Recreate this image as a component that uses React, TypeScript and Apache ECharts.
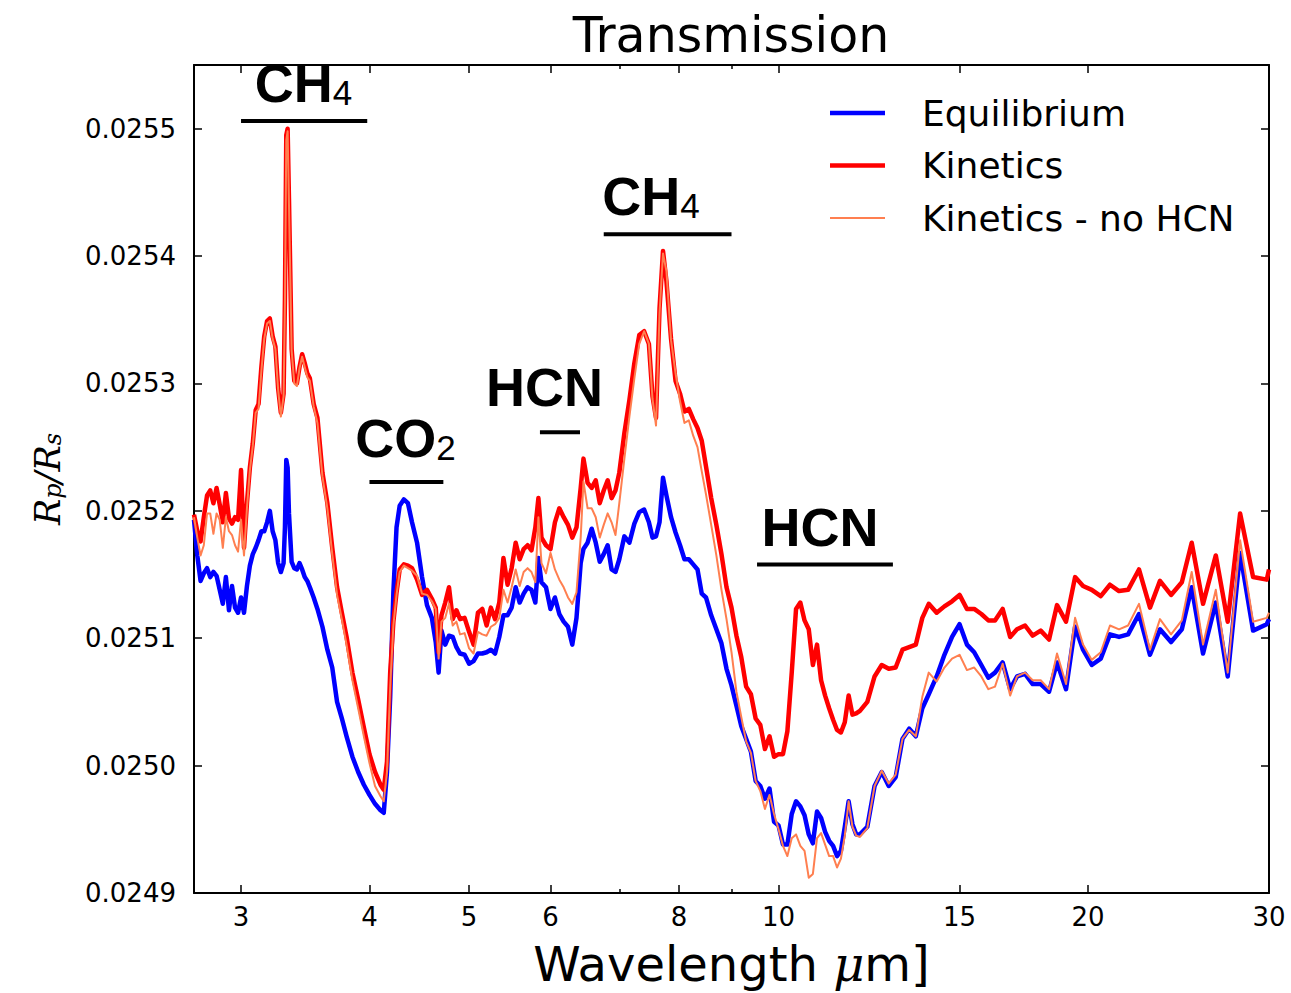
import React, { useEffect, useRef } from "react";
import * as echarts from "echarts";

// Wavelength grid (micron)
const wavelength = [
  2.7, 2.72, 2.74, 2.76, 2.78, 2.8, 2.82, 2.84, 2.86, 2.88, 2.9, 2.92, 2.94, 2.96, 2.98, 3.0, 3.02, 3.04, 3.06,
  3.08, 3.1, 3.12, 3.14, 3.16, 3.18, 3.2, 3.22, 3.24, 3.26, 3.28, 3.3, 3.31, 3.32, 3.33, 3.34, 3.36, 3.38, 3.4, 3.42, 3.44, 3.46, 3.48, 3.5,
  3.53, 3.56, 3.6, 3.64, 3.68, 3.72, 3.76, 3.8, 3.85, 3.9, 3.95, 4.0, 4.05, 4.1, 4.13, 4.16, 4.19, 4.22, 4.25,
  4.28, 4.32, 4.36, 4.4, 4.45, 4.5, 4.55, 4.6, 4.64, 4.67, 4.7, 4.74, 4.78, 4.82, 4.86, 4.9, 4.95, 5.0, 5.05, 5.1, 5.15, 5.2, 5.25, 5.3, 5.35,
  5.4, 5.45, 5.5, 5.55, 5.6, 5.65, 5.7, 5.75, 5.8, 5.84, 5.88, 5.94, 6.0, 6.06, 6.12, 6.18, 6.24, 6.3, 6.36, 6.42, 6.46, 6.52, 6.58, 6.64, 6.7, 6.76, 6.82, 6.88, 6.94, 7.0,
  7.08, 7.16, 7.24, 7.32, 7.4, 7.48, 7.54, 7.6, 7.66, 7.72, 7.78, 7.86, 7.94, 8.02, 8.1, 8.18, 8.26, 8.34, 8.42, 8.5, 8.6, 8.7, 8.8, 8.9, 9.0,
  9.1, 9.2, 9.3, 9.4, 9.5, 9.6, 9.7, 9.8, 9.9, 10.0, 10.1, 10.2, 10.3, 10.4, 10.5, 10.6, 10.7, 10.8, 10.9, 11.0, 11.1, 11.2, 11.3, 11.4, 11.5, 11.6, 11.7, 11.8, 11.9, 12.0,
  12.2, 12.4, 12.6, 12.8, 13.0, 13.2, 13.4, 13.6, 13.8, 14.0, 14.25, 14.5, 14.75, 15.0, 15.25, 15.5, 15.75, 16.0,
  16.24, 16.52, 16.8, 17.06, 17.37, 17.67, 17.99, 18.33, 18.66, 19.04, 19.43, 19.78, 20.17, 20.58, 21.01, 21.44, 21.88, 22.42, 22.98, 23.5,
  24.09, 24.68, 25.23, 25.88, 26.63, 27.35, 28.12, 28.95, 29.85, 30.0,
];

// Rp/Rs, equilibrium chemistry
const equilibrium = [
  0.025193, 0.025165, 0.025145, 0.025151, 0.025155, 0.025148, 0.025152, 0.025149, 0.025138, 0.025127, 0.025148, 0.025122, 0.025141, 0.025124, 0.02512, 0.025132, 0.02512, 0.025141, 0.025157,
  0.025166, 0.025171, 0.025177, 0.025184, 0.025184, 0.025191, 0.0252, 0.025184, 0.025177, 0.025159, 0.025152, 0.025159, 0.025187, 0.02524, 0.025234, 0.025198, 0.02516, 0.025155, 0.025154, 0.025159, 0.025154, 0.025148, 0.025145, 0.02514,
  0.025132, 0.025123, 0.025109, 0.025091, 0.025077, 0.02505, 0.025037, 0.025023, 0.025007, 0.024995, 0.024985, 0.024977, 0.02497, 0.024965, 0.024963, 0.024995, 0.025054, 0.025136, 0.025187,
  0.025204, 0.025209, 0.025206, 0.025191, 0.025175, 0.025148, 0.025126, 0.025116, 0.025097, 0.025073, 0.025106, 0.025095, 0.025102, 0.025101, 0.025093, 0.025088, 0.025087, 0.02508, 0.025082, 0.025088, 0.025088, 0.025089, 0.025091, 0.025088, 0.025101,
  0.025118, 0.025118, 0.025124, 0.02514, 0.025128, 0.025135, 0.02514, 0.025138, 0.025128, 0.025163, 0.025144, 0.02514, 0.025123, 0.025132, 0.025119, 0.025113, 0.025109, 0.025095, 0.025116, 0.025159, 0.02517, 0.025175, 0.025186, 0.025175, 0.02516, 0.025166, 0.025173, 0.025154, 0.025152, 0.025162,
  0.02518, 0.025175, 0.02519, 0.025199, 0.025201, 0.025191, 0.025179, 0.02518, 0.025191, 0.025226, 0.025212, 0.025195, 0.025183, 0.025173, 0.025162, 0.025162, 0.025158, 0.025154, 0.025135, 0.025132, 0.025118, 0.025107, 0.025096, 0.025076, 0.025063,
  0.025047, 0.025031, 0.025021, 0.025011, 0.024988, 0.024984, 0.024974, 0.024982, 0.024956, 0.024953, 0.024938, 0.024938, 0.024962, 0.024972, 0.024968, 0.024961, 0.024946, 0.024939, 0.024964, 0.024959, 0.024948, 0.024941, 0.024937, 0.024929, 0.024933, 0.024952, 0.024972, 0.024954, 0.024946, 0.024946,
  0.024952, 0.024984, 0.024995, 0.024984, 0.024991, 0.025021, 0.025029, 0.025023, 0.025045, 0.025056, 0.02507, 0.025087, 0.025101, 0.025111, 0.025095, 0.025089, 0.025079, 0.025069,
  0.025073, 0.025081, 0.02506, 0.02507, 0.025072, 0.025064, 0.025064, 0.025058, 0.025081, 0.02506, 0.025109, 0.025091, 0.025079, 0.025084, 0.025103, 0.025101, 0.025103, 0.025119, 0.025087, 0.025107,
  0.025097, 0.025107, 0.02514, 0.025088, 0.025128, 0.02507, 0.025167, 0.025106, 0.025111, 0.025115,
];

// Rp/Rs, disequilibrium (kinetics) chemistry
const kinetics = [
  0.025197, 0.025184, 0.025176, 0.025195, 0.025212, 0.025216, 0.025206, 0.025218, 0.025205, 0.025191, 0.025214, 0.025194, 0.02519, 0.025195, 0.025193, 0.025232, 0.025171, 0.025206, 0.025234,
  0.025253, 0.025279, 0.025284, 0.025313, 0.025337, 0.025349, 0.025351, 0.025337, 0.025329, 0.025296, 0.025277, 0.025292, 0.025366, 0.025495, 0.0255, 0.025445, 0.025327, 0.025302, 0.0253, 0.025313, 0.025323, 0.025316, 0.025308, 0.025304,
  0.025284, 0.025273, 0.02523, 0.025206, 0.025171, 0.02514, 0.02512, 0.025101, 0.025073, 0.025052, 0.02503, 0.025009, 0.024995, 0.024985, 0.024981, 0.025003, 0.025073, 0.025113, 0.025136,
  0.025154, 0.025158, 0.025157, 0.025155, 0.025146, 0.025134, 0.025138, 0.025131, 0.025124, 0.025089, 0.025118, 0.025128, 0.02514, 0.025115, 0.025122, 0.025115, 0.025116, 0.025105, 0.025095, 0.02512, 0.025123, 0.02511, 0.025124, 0.025115, 0.025128,
  0.025163, 0.025142, 0.025155, 0.025175, 0.025162, 0.02517, 0.025173, 0.025169, 0.025187, 0.02521, 0.025179, 0.025173, 0.02517, 0.025191, 0.025202, 0.025195, 0.025189, 0.025179, 0.025187, 0.025218, 0.025241, 0.025222, 0.025218, 0.025224, 0.025206, 0.025216, 0.025224, 0.02521, 0.025216, 0.02523,
  0.025261, 0.025287, 0.025316, 0.025338, 0.025341, 0.025331, 0.02529, 0.025273, 0.025359, 0.025404, 0.02538, 0.025335, 0.025302, 0.025292, 0.025278, 0.02528, 0.025272, 0.025265, 0.025255, 0.025235, 0.02521, 0.025189, 0.025166, 0.02514, 0.025124,
  0.025102, 0.025085, 0.025062, 0.025056, 0.025037, 0.025032, 0.025013, 0.025023, 0.025007, 0.025009, 0.025009, 0.025027, 0.025073, 0.025123, 0.025128, 0.025114, 0.025107, 0.025079, 0.025095, 0.025067, 0.025055, 0.025045, 0.025036, 0.025028, 0.025026, 0.025034, 0.025055, 0.02504, 0.025041, 0.025043,
  0.02505, 0.02507, 0.025079, 0.025076, 0.025077, 0.025091, 0.025093, 0.025095, 0.025116, 0.025127, 0.02512, 0.025125, 0.025129, 0.025134, 0.025123, 0.025123, 0.025119, 0.025114,
  0.025114, 0.025123, 0.025101, 0.025107, 0.02511, 0.025102, 0.025106, 0.025099, 0.025126, 0.025113, 0.025148, 0.025141, 0.025138, 0.025133, 0.025142, 0.025137, 0.025138, 0.025154, 0.025124, 0.025145,
  0.025134, 0.025144, 0.025175, 0.025127, 0.025165, 0.025113, 0.025198, 0.025148, 0.025146, 0.025154,
];

// Rp/Rs, kinetics without HCN opacity
const kineticsNoHCN = [
  0.025195, 0.025179, 0.025165, 0.025173, 0.025198, 0.025198, 0.025182, 0.025198, 0.025193, 0.025171, 0.025195, 0.025184, 0.025181, 0.025173, 0.025168, 0.025193, 0.025165, 0.025202, 0.025232,
  0.025251, 0.025277, 0.02528, 0.02531, 0.025335, 0.025347, 0.025349, 0.025335, 0.025327, 0.025295, 0.025274, 0.02529, 0.025363, 0.025491, 0.025498, 0.025441, 0.025326, 0.0253, 0.025298, 0.025312, 0.025321, 0.025313, 0.025305, 0.025302,
  0.025282, 0.025269, 0.025227, 0.025202, 0.025166, 0.025134, 0.025115, 0.025095, 0.025067, 0.025045, 0.025023, 0.025002, 0.024984, 0.024976, 0.024972, 0.024995, 0.025062, 0.02511, 0.025134,
  0.025152, 0.025157, 0.025155, 0.025153, 0.025149, 0.025135, 0.025134, 0.025129, 0.025123, 0.025084, 0.025113, 0.025116, 0.025127, 0.02511, 0.025113, 0.025103, 0.025104, 0.025092, 0.025088, 0.025105, 0.025103, 0.025102, 0.025109, 0.025111, 0.025116,
  0.025138, 0.025128, 0.02514, 0.025154, 0.025141, 0.025152, 0.025155, 0.025152, 0.025144, 0.025195, 0.025159, 0.025151, 0.025167, 0.025154, 0.025146, 0.02514, 0.025132, 0.025127, 0.025136, 0.025179, 0.025223, 0.025202, 0.025202, 0.025195, 0.025179, 0.025189, 0.025198, 0.025191, 0.025181, 0.025206,
  0.025241, 0.025274, 0.025304, 0.025331, 0.025341, 0.025331, 0.025288, 0.025267, 0.025355, 0.025402, 0.025388, 0.025334, 0.025308, 0.025286, 0.025269, 0.025271, 0.025259, 0.02525, 0.025231, 0.025213, 0.025189, 0.025165, 0.025138, 0.025115, 0.025089,
  0.025058, 0.025038, 0.025019, 0.02501, 0.024988, 0.02498, 0.024966, 0.024977, 0.024962, 0.02495, 0.024937, 0.024929, 0.024943, 0.024946, 0.024937, 0.024933, 0.024912, 0.024915, 0.024943, 0.024947, 0.024938, 0.024929, 0.024929, 0.02492, 0.024927, 0.024945, 0.024972, 0.024952, 0.024945, 0.024944,
  0.024951, 0.024984, 0.024996, 0.024986, 0.024993, 0.025021, 0.025028, 0.025023, 0.025054, 0.025073, 0.025066, 0.025077, 0.025084, 0.025087, 0.025075, 0.025077, 0.02507, 0.02506,
  0.025062, 0.02508, 0.025055, 0.02507, 0.025073, 0.025067, 0.025067, 0.02506, 0.025088, 0.025064, 0.025116, 0.025095, 0.025083, 0.025089, 0.02511, 0.025107, 0.02511, 0.025127, 0.025091, 0.025115,
  0.025103, 0.025114, 0.025152, 0.025095, 0.025138, 0.025073, 0.025177, 0.025113, 0.025116, 0.02512,
];

const seriesNames = ["Equilibrium", "Kinetics", "Kinetics - no HCN"];

const xTickLabels = [3, 4, 5, 6, 8, 10, 15, 20, 30];
const xMinorTicks = [7, 9];
const yTickValues = [0.0249, 0.025, 0.0251, 0.0252, 0.0253, 0.0254, 0.0255];
const xRange = [2.7, 30];
const yRange = [0.0249, 0.02555];

// Molecule annotations: label text, label anchor, underline span
const annotationLabels = ["{b|CH}{s|4}", "{b|CO}{s|2}", "{b|HCN}", "{b|CH}{s|4}", "{b|HCN}"];
const annotationWl = [3.451, 4.337, 5.921, 7.516, 10.974];
const annotationR = [0.0255356, 0.0252571, 0.0252969, 0.0254473, 0.0251875];
const barFrom = [3.0, 4.0, 5.86, 6.76, 9.53];
const barTo = [3.98, 4.72, 6.41, 9.0, 12.92];
const barR = [0.025506, 0.0252227, 0.0252617, 0.0254172, 0.0251578];

const lg = (v: number) => Math.log10(v);

export default function App() {
  const ref = useRef<HTMLDivElement>(null);

  useEffect(() => {
    if (!ref.current) return;
    const chart = echarts.init(ref.current, null, { renderer: "svg" });

    const toData = (vals: number[]) => wavelength.map((w, i) => [lg(w), vals[i]]);
    const colors = ["#0000ff", "#ff0000", "#ff7f50"];
    const widths = [4.5, 4.5, 2];
    const legendIcons = ["path://M0 0H55V4.5H0Z", "path://M0 0H55V4.5H0Z", "path://M0 0H55V2H0Z"];
    const values = [equilibrium, kinetics, kineticsNoHCN];

    const lineSeries: any[] = seriesNames.map((name, k) => ({
      name,
      type: "line",
      xAxisIndex: 0,
      yAxisIndex: 0,
      data: toData(values[k]),
      symbol: "none",
      showSymbol: false,
      color: colors[k],
      itemStyle: { color: colors[k] },
      lineStyle: { color: colors[k], width: widths[k], join: "round" },
      z: 3 + k,
      silent: true,
    }));

    const barSeries: any[] = barFrom.map((a, i) => ({
      name: "bar" + i,
      type: "line",
      xAxisIndex: 0,
      yAxisIndex: 0,
      data: [
        [lg(a), barR[i]],
        [lg(barTo[i]), barR[i]],
      ],
      symbol: "none",
      lineStyle: { color: "#000", width: 4, cap: "butt" },
      silent: true,
      z: 10,
    }));

    const labelSeries = {
      name: "labels",
      type: "scatter",
      xAxisIndex: 0,
      yAxisIndex: 0,
      symbolSize: 0,
      silent: true,
      z: 11,
      itemStyle: { color: "#000", opacity: 1 },
      data: annotationWl.map((w, i) => ({
        value: [lg(w), annotationR[i]],
        label: { formatter: annotationLabels[i] },
      })),
      label: {
        show: true,
        position: "inside",
        align: "center",
        verticalAlign: "middle",
        color: "#000",
        opacity: 1,
        textBorderWidth: 0,
        textBorderColor: "transparent",
        rich: {
          b: { fontSize: 54, fontWeight: "bold", fontFamily: "Liberation Sans", color: "#000", lineHeight: 54, textBorderWidth: 0, opacity: 1 },
          s: { fontSize: 35, fontWeight: "normal", fontFamily: "Liberation Sans", color: "#000", lineHeight: 35, verticalAlign: "bottom", textBorderWidth: 0, opacity: 1 },
        },
      },
    };

    const xCommon = {
      type: "value",
      min: lg(xRange[0]),
      max: lg(xRange[1]),
      splitLine: { show: false },
    };
    const yCommon = {
      type: "value",
      min: yRange[0],
      max: yRange[1],
      splitLine: { show: false },
    };

    chart.setOption({
      animation: false,
      backgroundColor: "#fff",
      title: {
        text: "Transmission",
        left: 731,
        top: 11,
        textAlign: "center",
        padding: 0,
        textStyle: { fontSize: 49, fontWeight: "normal", fontFamily: "DejaVu Sans", color: "#000" },
      },
      legend: {
        orient: "vertical",
        left: 830,
        top: 93,
        itemWidth: 55,
        itemHeight: 20,
        itemGap: 12.5,
        padding: 0,
        textStyle: { fontSize: 36, fontFamily: "DejaVu Sans", color: "#000", lineHeight: 40, padding: [0, 0, 0, 32] },
        data: seriesNames.map((n, k) => ({ name: n, icon: legendIcons[k], itemStyle: { color: colors[k] } })),
      },
      grid: { left: 194, right: 22, top: 65, bottom: 96, containLabel: false },
      xAxis: [
        {
          ...xCommon,
          position: "bottom",
          name: "Wavelength {mu|\u03bc}m]",
          nameLocation: "middle",
          nameGap: 47,
          nameTextStyle: {
            fontSize: 48,
            fontFamily: "DejaVu Sans",
            color: "#000",
            rich: { mu: { fontSize: 48, fontFamily: "DejaVu Serif", fontStyle: "italic", color: "#000" } },
          },
          axisLine: { show: true, onZero: false, lineStyle: { color: "#000", width: 2 } },
          axisTick: { show: true, inside: true, length: 8, customValues: xTickLabels.map(lg), lineStyle: { color: "#000", width: 1.5 } },
          axisLabel: {
            show: true,
            customValues: xTickLabels.map(lg),
            formatter: (v: number) => String(Math.round(Math.pow(10, v))),
            fontSize: 26,
            fontFamily: "DejaVu Sans",
            color: "#000",
            margin: 11,
          },
        },
        {
          ...xCommon,
          position: "top",
          axisLine: { show: true, onZero: false, lineStyle: { color: "#000", width: 2 } },
          axisTick: { show: true, inside: true, length: 8, customValues: xTickLabels.map(lg), lineStyle: { color: "#000", width: 1.5 } },
          axisLabel: { show: false },
        },
        {
          ...xCommon,
          position: "bottom",
          axisLine: { show: false, onZero: false },
          axisTick: { show: true, inside: true, length: 4, customValues: xMinorTicks.map(lg), lineStyle: { color: "#000", width: 1.5 } },
          axisLabel: { show: false },
        },
        {
          ...xCommon,
          position: "top",
          axisLine: { show: false, onZero: false },
          axisTick: { show: true, inside: true, length: 4, customValues: xMinorTicks.map(lg), lineStyle: { color: "#000", width: 1.5 } },
          axisLabel: { show: false },
        },
      ],
      yAxis: [
        {
          ...yCommon,
          position: "left",
          name: "{i|R}{sub|p}{i|/R}{sub|s}",
          nameLocation: "middle",
          nameGap: 129,
          nameTextStyle: {
            color: "#000",
            rich: {
              i: { fontSize: 35, fontFamily: "DejaVu Serif", fontStyle: "italic", color: "#000" },
              sub: { fontSize: 24, fontFamily: "DejaVu Serif", fontStyle: "italic", color: "#000", verticalAlign: "bottom" },
            },
          },
          axisLine: { show: true, onZero: false, lineStyle: { color: "#000", width: 2 } },
          axisTick: { show: true, inside: true, length: 8, customValues: yTickValues, lineStyle: { color: "#000", width: 1.5 } },
          axisLabel: {
            show: true,
            customValues: yTickValues,
            formatter: (v: number) => v.toFixed(4),
            fontSize: 26,
            fontFamily: "DejaVu Sans",
            color: "#000",
            margin: 18,
          },
        },
        {
          ...yCommon,
          position: "right",
          axisLine: { show: true, onZero: false, lineStyle: { color: "#000", width: 2 } },
          axisTick: { show: true, inside: true, length: 8, customValues: yTickValues, lineStyle: { color: "#000", width: 1.5 } },
          axisLabel: { show: false },
        },
      ],
      series: [...lineSeries, ...barSeries, labelSeries],
    });

    return () => {
      chart.dispose();
    };
  }, []);

  return (
    <div
      ref={ref}
      style={{ position: "absolute", left: 0, top: 0, width: 1291, height: 993, background: "#fff" }}
    />
  );
}
